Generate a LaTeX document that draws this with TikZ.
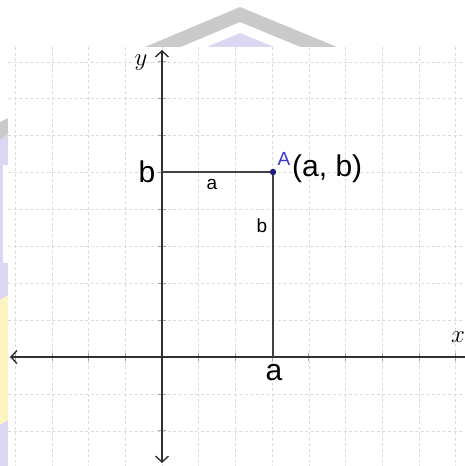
\documentclass[tikz,border=0pt]{standalone}
\usepackage{fontspec}
\setmainfont{Liberation Sans}
\usetikzlibrary{arrows.meta}
\definecolor{wmgrey}{HTML}{CACACA}
\definecolor{wmlav}{HTML}{DAD7F3}
\definecolor{wmyel}{HTML}{FCF4C2}
\definecolor{axiscol}{HTML}{303030}
\definecolor{segcol}{HTML}{404040}
\definecolor{ptcol}{HTML}{1C1C7A}
\definecolor{acol}{HTML}{3A36D0}
\begin{document}
\begin{tikzpicture}[x=1pt,y=-1pt,
  gridline/.style={draw=gray!28,line width=0.6pt,dash pattern=on 3pt off 2.5pt},
  axisline/.style={draw=axiscol,line width=1.8pt,
     arrows={Straight Barb[length=6pt,width=13pt,line width=1.4pt]-Straight Barb[length=6pt,width=13pt,line width=1.4pt]}},
  segline/.style={draw=segcol,line width=1.5pt},
  tick/.style={draw=gray!70,line width=0.7pt},
  biglbl/.style={inner sep=0pt,font=\fontsize{30}{32}\selectfont},
  smalllbl/.style={inner sep=0pt,font=\fontsize{19}{21}\selectfont},
  axlbl/.style={inner sep=0pt,font=\fontsize{28}{30}\selectfont}]
\useasboundingbox (0,0) rectangle (465,466);
% watermark
\fill[white] (0,0) rectangle (465,466);
\fill[wmgrey] (145,47) -- (240,7) -- (337,47) -- (300.6,47) -- (240,22) -- (180.6,47) -- cycle;
\fill[wmlav] (206.8,47) -- (240,33) -- (274,47) -- cycle;
\fill[wmgrey] (0,122) -- (8,118) -- (8,134) -- (0,140) -- cycle;
\fill[wmlav] (0,140) -- (8,134) -- (8,466) -- (0,466) -- cycle;
\fill[white] (3,165) rectangle (8,263);
\fill[wmyel] (0,300) -- (8,295) -- (8,420) -- (0,425) -- cycle;
% diagram area
\fill[white] (8,47) rectangle (466,467);
\foreach \k in {-4,...,8} {
  \draw[gridline] ({162+36.7*\k},47) -- ({162+36.7*\k},466);
  \draw[tick] ({162+36.7*\k},353) -- ({162+36.7*\k},361);
}
\foreach \k in {-2,...,8} {
  \draw[gridline] (8,{357-36.9*\k}) -- (465,{357-36.9*\k});
  \draw[tick] (158,{357-36.9*\k}) -- (166,{357-36.9*\k});
}
% coordinates
\coordinate (ytop) at (162,50);
\coordinate (ybot) at (162,463);
\coordinate (xleft) at (10,357);
\coordinate (xright) at (480,357);
\coordinate (B) at (162,172);
\coordinate (Ax) at (273,357);
% axes
\draw[axisline] (xleft) -- (xright);
\draw[axisline] (ybot) -- (ytop);
% segments
\draw[segline] (B) -- (273,172) coordinate (Apt) -- (Ax);
\fill[ptcol] (Apt) circle (3.2pt);
% labels
\node[axlbl] (ylbl) at (141,63) {$y$};
\node[axlbl] (xlbl) at (458,337) {$x$};
\node[biglbl,anchor=base] (bl) at (147,182) {b};
\node[smalllbl,anchor=base] (al) at (212,189) {a};
\node[smalllbl,anchor=base] (bs) at (262,232) {b};
\node[smalllbl,anchor=base,text=acol] (Al) at (284,165) {A};
\node[biglbl,anchor=base west] (ab) at (292,176) {(a, b)};
\node[biglbl,anchor=base] (ax) at (274,380) {a};
\end{tikzpicture}
\end{document}
